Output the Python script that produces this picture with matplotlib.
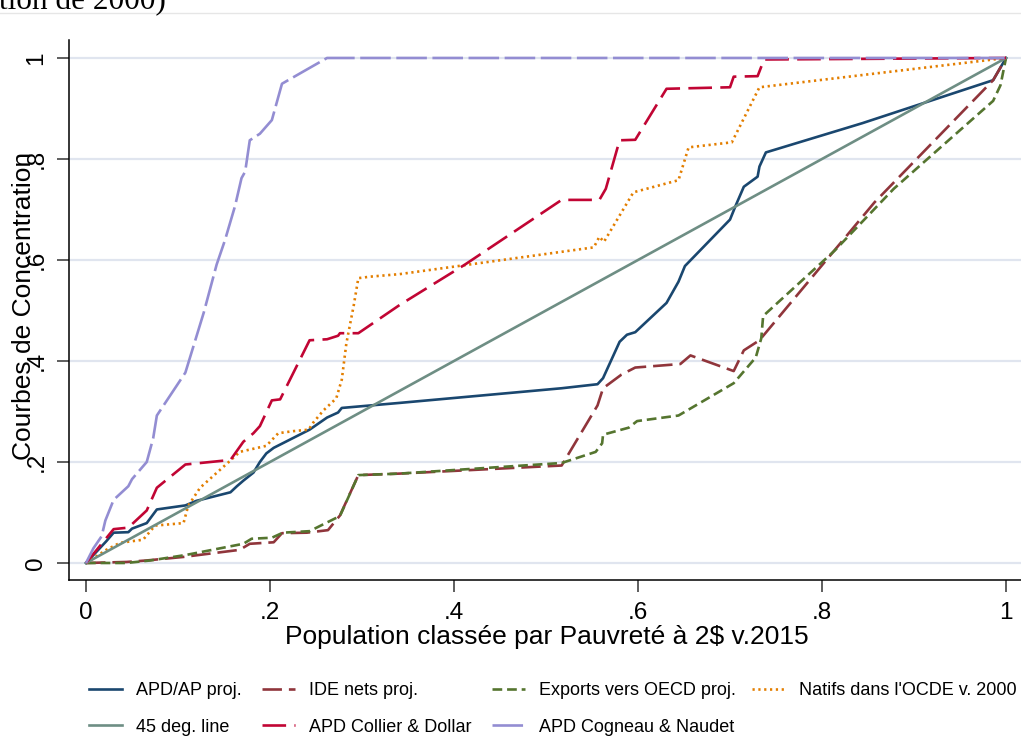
import matplotlib as mp
# Headless
mp.use('Agg')

import matplotlib.pyplot as plt
from matplotlib.lines import Line2D

plt.rcParams['font.family'] = ['Liberation Sans', 'DejaVu Sans']
plt.rcParams['lines.scale_dashes'] = False

# concentration curves: population share ranked by poverty -> cumulative share
apd_x = [0, 0.022, 0.030, 0.046, 0.050, 0.066, 0.077, 0.108, 0.120, 0.157, 0.164, 0.171,
         0.182, 0.189, 0.196, 0.204, 0.243, 0.262, 0.274, 0.278, 0.341, 0.517, 0.556,
         0.562, 0.580, 0.588, 0.597, 0.631, 0.644, 0.651, 0.700, 0.706, 0.715, 0.730,
         0.732, 0.739, 0.844, 0.986, 1.0]
apd_y = [0, 0.043, 0.060, 0.061, 0.068, 0.079, 0.106, 0.114, 0.123, 0.140, 0.152, 0.163,
         0.179, 0.200, 0.217, 0.228, 0.264, 0.288, 0.298, 0.307, 0.317, 0.346, 0.354,
         0.366, 0.438, 0.452, 0.457, 0.515, 0.557, 0.588, 0.680, 0.707, 0.745, 0.765,
         0.785, 0.813, 0.871, 0.956, 1.0]

ide_x = [0, 0.044, 0.066, 0.106, 0.167, 0.178, 0.204, 0.213, 0.240, 0.263, 0.276, 0.296,
         0.341, 0.517, 0.556, 0.562, 0.582, 0.597, 0.646, 0.657, 0.704, 0.715, 0.732,
         0.857, 0.986, 1.0]
ide_y = [0, 0.002, 0.005, 0.012, 0.026, 0.038, 0.041, 0.059, 0.060, 0.065, 0.094, 0.174,
         0.177, 0.193, 0.312, 0.346, 0.373, 0.387, 0.394, 0.411, 0.380, 0.421, 0.441,
         0.714, 0.956, 1.0]

exp_x = [0, 0.044, 0.070, 0.109, 0.171, 0.180, 0.202, 0.214, 0.243, 0.276, 0.296, 0.341,
         0.517, 0.554, 0.561, 0.562, 0.590, 0.599, 0.644, 0.704, 0.728, 0.734, 0.736,
         0.814, 0.878, 0.986, 0.994, 1.0]
exp_y = [0, 0.0, 0.005, 0.016, 0.038, 0.048, 0.050, 0.060, 0.063, 0.093, 0.174, 0.177,
         0.198, 0.220, 0.237, 0.254, 0.268, 0.281, 0.292, 0.356, 0.407, 0.445, 0.489,
         0.619, 0.741, 0.915, 0.946, 1.0]

nat_x = [0, 0.022, 0.037, 0.062, 0.075, 0.106, 0.111, 0.124, 0.157, 0.167, 0.196, 0.209,
         0.225, 0.242, 0.247, 0.258, 0.272, 0.278, 0.283, 0.291, 0.296, 0.309, 0.341,
         0.552, 0.558, 0.563, 0.595, 0.644, 0.655, 0.702, 0.732, 1.0]
nat_y = [0, 0.026, 0.040, 0.046, 0.074, 0.079, 0.113, 0.149, 0.203, 0.220, 0.232, 0.257,
         0.261, 0.264, 0.278, 0.302, 0.326, 0.363, 0.435, 0.510, 0.564, 0.567, 0.572,
         0.625, 0.646, 0.636, 0.734, 0.758, 0.823, 0.833, 0.942, 1.0]

diag_x = [0, 1]
diag_y = [0, 1]

col_x = [0, 0.030, 0.046, 0.066, 0.077, 0.108, 0.157, 0.171, 0.182, 0.189, 0.202, 0.211,
         0.243, 0.262, 0.274, 0.276, 0.296, 0.341, 0.412, 0.517, 0.558, 0.565, 0.580,
         0.597, 0.631, 0.700, 0.704, 0.730, 0.737, 1.0]
col_y = [0, 0.067, 0.070, 0.104, 0.149, 0.195, 0.204, 0.240, 0.257, 0.271, 0.322, 0.324,
         0.441, 0.443, 0.450, 0.455, 0.455, 0.511, 0.591, 0.719, 0.719, 0.741, 0.837,
         0.838, 0.939, 0.942, 0.963, 0.964, 0.997, 1.0]

cog_x = [0, 0.008, 0.017, 0.021, 0.030, 0.046, 0.050, 0.066, 0.073, 0.077, 0.108, 0.128,
         0.142, 0.151, 0.162, 0.169, 0.173, 0.178, 0.189, 0.202, 0.213, 0.236, 0.262, 1.0]
cog_y = [0, 0.029, 0.053, 0.084, 0.125, 0.152, 0.166, 0.200, 0.247, 0.292, 0.377, 0.496,
         0.591, 0.639, 0.707, 0.762, 0.775, 0.837, 0.850, 0.877, 0.949, 0.973, 1.0, 1.0]

ticks = [0, 0.2, 0.4, 0.6, 0.8, 1.0]
tick_labels = ['0', '.2', '.4', '.6', '.8', '1']

fig = plt.figure(figsize=(10.21, 7.40), dpi=100)
ax = fig.add_axes([69 / 1021, 160 / 740, 952 / 1021, 540 / 740])

lw = 1.9
series = [
    (apd_x, apd_y, 'APD/AP proj.', '#1a476f', '-'),
    (ide_x, ide_y, 'IDE nets proj.', '#90353b', (0, (14, 5))),
    (exp_x, exp_y, 'Exports vers OECD proj.', '#55752f', (0, (7, 3.5))),
    (nat_x, nat_y, "Natifs dans l'OCDE v. 2000", '#e37e00', (0, (1.6, 2.6))),
    (diag_x, diag_y, '45 deg. line', '#6e8e84', '-'),
    (col_x, col_y, 'APD Collier & Dollar', '#c10534', (0, (17, 6))),
    (cog_x, cog_y, 'APD Cogneau & Naudet', '#938dd2', (0, (22, 4))),
]
handles = {}
for xs, ys, name, color, ls in series:
    h, = ax.plot(xs, ys, color=color, lw=lw, ls=ls, label=name)
    handles[name] = h

ax.set_xlim(-0.0185, 1.0163)
ax.set_ylim(-0.0337, 1.0356)
ax.set_xticks(ticks)
ax.set_xticklabels(tick_labels)
ax.set_yticks(ticks)
ax.set_yticklabels(tick_labels, rotation=90, va='center')
ax.tick_params(axis='both', labelsize=17.5, length=8.5, width=1.1, color='#333333')
ax.tick_params(axis='y', pad=7)
ax.tick_params(axis='x', pad=7)
ax.grid(axis='y', color='#e0e5ef', lw=1.6)
ax.set_axisbelow(True)
for s in ['top', 'right']:
    ax.spines[s].set_visible(False)
for s in ['left', 'bottom']:
    ax.spines[s].set_linewidth(1.1)

fig.text(24 / 1021, 1 - 306 / 740, 'Courbes de Concentration', rotation=90,
         ha='center', va='center', fontsize=19)
fig.text(547 / 1021, 1 - 637 / 740, 'Population classée par Pauvreté à 2$ v.2015',
         ha='center', va='center', fontsize=19)

# legend: two rows under the plot, one small legend per column
columns = [
    (89, ['APD/AP proj.', '45 deg. line']),
    (262, ['IDE nets proj.', 'APD Collier & Dollar']),
    (492, ['Exports vers OECD proj.', 'APD Cogneau & Naudet']),
    (752, ["Natifs dans l'OCDE v. 2000"]),
]
for x0, names in columns:
    fig.legend([handles[k] for k in names], names, loc='upper left',
               bbox_to_anchor=(x0 / 1021, 1 - 682 / 740), frameon=False, fontsize=13,
               handlelength=1.8, handletextpad=0.8, labelspacing=1.08,
               borderpad=0, borderaxespad=0)

# page remnants above the chart
fig.text(-0.001, 1 - 9 / 740, 'tion de 2000)', family='Liberation Serif',
         fontsize=22.5, va='baseline', ha='left')
fig.add_artist(Line2D([0, 1], [1 - 13 / 740, 1 - 13 / 740], color='#e6e6e6', lw=1,
                      transform=fig.transFigure))

plt.savefig('out.png', dpi=100)
